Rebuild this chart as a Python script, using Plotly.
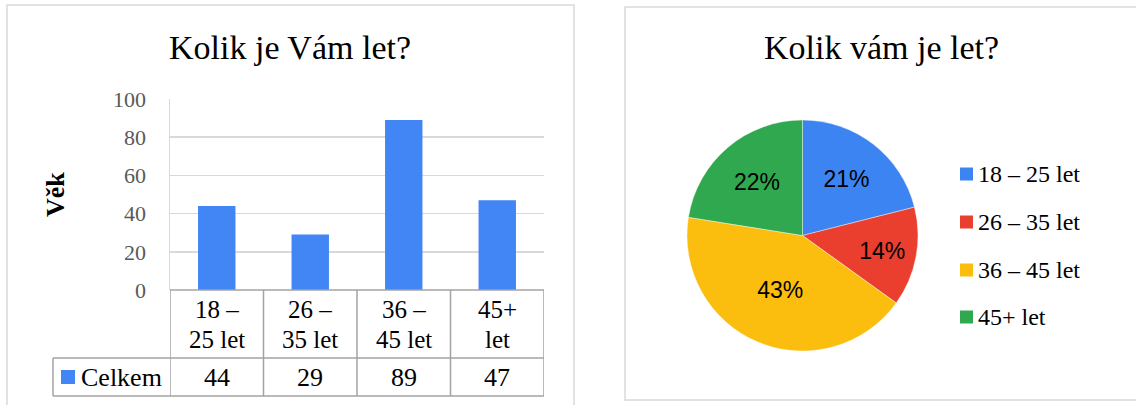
import plotly.graph_objects as go

# ---- data ----
categories = ["18 – 25 let", "26 – 35 let", "36 – 45 let", "45+ let"]
header_line1 = ["18 –", "26 –", "36 –", "45+"]
header_line2 = ["25 let", "35 let", "45 let", "let"]
counts = [44, 29, 89, 47]
series_name = "Celkem"
y_ticks = [0, 20, 40, 60, 80, 100]
bar_title = "Kolik je Vám let?"
pie_title = "Kolik vám je let?"
y_axis_title = "Věk"
pie_colors = ["#3D84F3", "#EA3E2F", "#FBBD0E", "#30A84F"]
bar_color = "#4285F4"

W, H = 1136, 405
def px(x):
    return x / W
def py(y):
    return 1 - y / H

SERIF = "Liberation Serif, Times New Roman, serif"
SANS = "Liberation Sans, Arial, sans-serif"

fig = go.Figure()

fig.add_trace(go.Bar(
    x=list(range(len(categories))), y=counts, width=0.4,
    marker=dict(color=bar_color, line=dict(width=0)),
    name=series_name, showlegend=False, hoverinfo="skip",
))

fig.add_trace(go.Pie(
    labels=categories, values=counts, sort=False, direction="clockwise",
    rotation=0, marker=dict(colors=pie_colors, line=dict(width=0.8, color="rgba(255,255,255,0.5)")),
    texttemplate="%{percent:.0%}", textposition="inside",
    insidetextorientation="horizontal", automargin=False,
    textfont=dict(family=SANS, size=23, color="black"),
    domain=dict(x=[px(687), px(918)], y=[py(351), py(120)]),
    showlegend=False, hoverinfo="skip",
))

fig.update_layout(
    width=W, height=H, margin=dict(l=0, r=0, t=0, b=0, pad=0, autoexpand=False),
    autosize=False, showlegend=False,
    paper_bgcolor="white", plot_bgcolor="white",
    xaxis=dict(domain=[px(170), px(544)], range=[-0.5, len(categories) - 0.5],
               showticklabels=False, showgrid=False, zeroline=False,
               showline=False, fixedrange=True, automargin=False),
    yaxis=dict(domain=[py(290), py(99)], range=[0, 100], tickvals=y_ticks,
               showgrid=True, gridcolor="#D9D9D9", gridwidth=1.5,
               zeroline=False, showline=True, linecolor="#D9D9D9", linewidth=1.5,
               ticks="", ticklabelstandoff=18, automargin=False, fixedrange=True,
               tickfont=dict(family=SERIF, size=22, color="#595959")),
)

shapes = []
ann = []
line_col = "#A3A3A3"

# panel borders
shapes.append(dict(type="rect", xref="paper", yref="paper",
                   x0=px(7), x1=px(574), y0=py(420), y1=py(5),
                   line=dict(color="#D9D9D9", width=1.5)))
shapes.append(dict(type="rect", xref="paper", yref="paper",
                   x0=px(625), x1=px(1150), y0=py(400), y1=py(7),
                   line=dict(color="#D9D9D9", width=1.5)))

# table
n = len(categories)
shapes.append(dict(type="line", xref="x", yref="paper", x0=-0.5, x1=n - 0.5,
                   y0=py(290), y1=py(290), line=dict(color=line_col, width=1.5)))
shapes.append(dict(type="line", xref="paper", yref="paper", x0=px(53), x1=px(544),
                   y0=py(358), y1=py(358), line=dict(color=line_col, width=1.5)))
shapes.append(dict(type="line", xref="paper", yref="paper", x0=px(53), x1=px(544),
                   y0=py(396), y1=py(396), line=dict(color=line_col, width=1.5)))
for i in range(n + 1):
    shapes.append(dict(type="line", xref="x", yref="paper", x0=i - 0.5, x1=i - 0.5,
                       y0=py(396), y1=py(290), line=dict(color=line_col, width=1.5)))
shapes.append(dict(type="line", xref="paper", yref="paper", x0=px(53), x1=px(53),
                   y0=py(396), y1=py(358), line=dict(color=line_col, width=1.5)))
shapes.append(dict(type="rect", xref="paper", yref="paper", x0=px(61), x1=px(75),
                   y0=py(384), y1=py(370), fillcolor=bar_color, line=dict(width=0)))
ann.append(dict(text=series_name, xref="paper", yref="paper", x=px(79), y=py(377),
                xanchor="left", yanchor="middle", showarrow=False,
                font=dict(family=SERIF, size=26, color="black")))

for i, (l1, l2, v) in enumerate(zip(header_line1, header_line2, counts)):
    ann.append(dict(text=l1, xref="x", yref="paper", x=i, y=py(309),
                    xanchor="center", yanchor="middle", showarrow=False,
                    font=dict(family=SERIF, size=25, color="black")))
    ann.append(dict(text=l2, xref="x", yref="paper", x=i, y=py(339),
                    xanchor="center", yanchor="middle", showarrow=False,
                    font=dict(family=SERIF, size=25, color="black")))
    ann.append(dict(text=str(v), xref="x", yref="paper", x=i, y=py(377),
                    xanchor="center", yanchor="middle", showarrow=False,
                    font=dict(family=SERIF, size=26, color="black")))

ann.append(dict(text="<b>%s</b>" % y_axis_title, xref="paper", yref="paper",
                x=px(56), y=py(194), textangle=-90, xanchor="center", yanchor="middle",
                showarrow=False, font=dict(family=SERIF, size=26, color="black")))

ann.append(dict(text=bar_title, xref="paper", yref="paper", x=px(290), y=py(48),
                xanchor="center", yanchor="middle", showarrow=False,
                font=dict(family=SERIF, size=34, color="black")))
ann.append(dict(text=pie_title, xref="paper", yref="paper", x=px(881), y=py(48),
                xanchor="center", yanchor="middle", showarrow=False,
                font=dict(family=SERIF, size=34, color="black")))

leg_y = [174, 222, 270, 317]
for lab, col, yy in zip(categories, pie_colors, leg_y):
    shapes.append(dict(type="rect", xref="paper", yref="paper", x0=px(960), x1=px(973),
                       y0=py(yy + 6.5), y1=py(yy - 6.5), fillcolor=col, line=dict(width=0)))
    ann.append(dict(text=lab, xref="paper", yref="paper", x=px(976), y=py(yy),
                    xanchor="left", yanchor="middle", showarrow=False,
                    font=dict(family=SERIF, size=24, color="black")))

fig.update_layout(shapes=shapes, annotations=ann)
fig.write_html("out.html", config={"displayModeBar": False, "staticPlot": True},
               post_script="document.body.style.margin='0';document.body.style.overflow='hidden';")
